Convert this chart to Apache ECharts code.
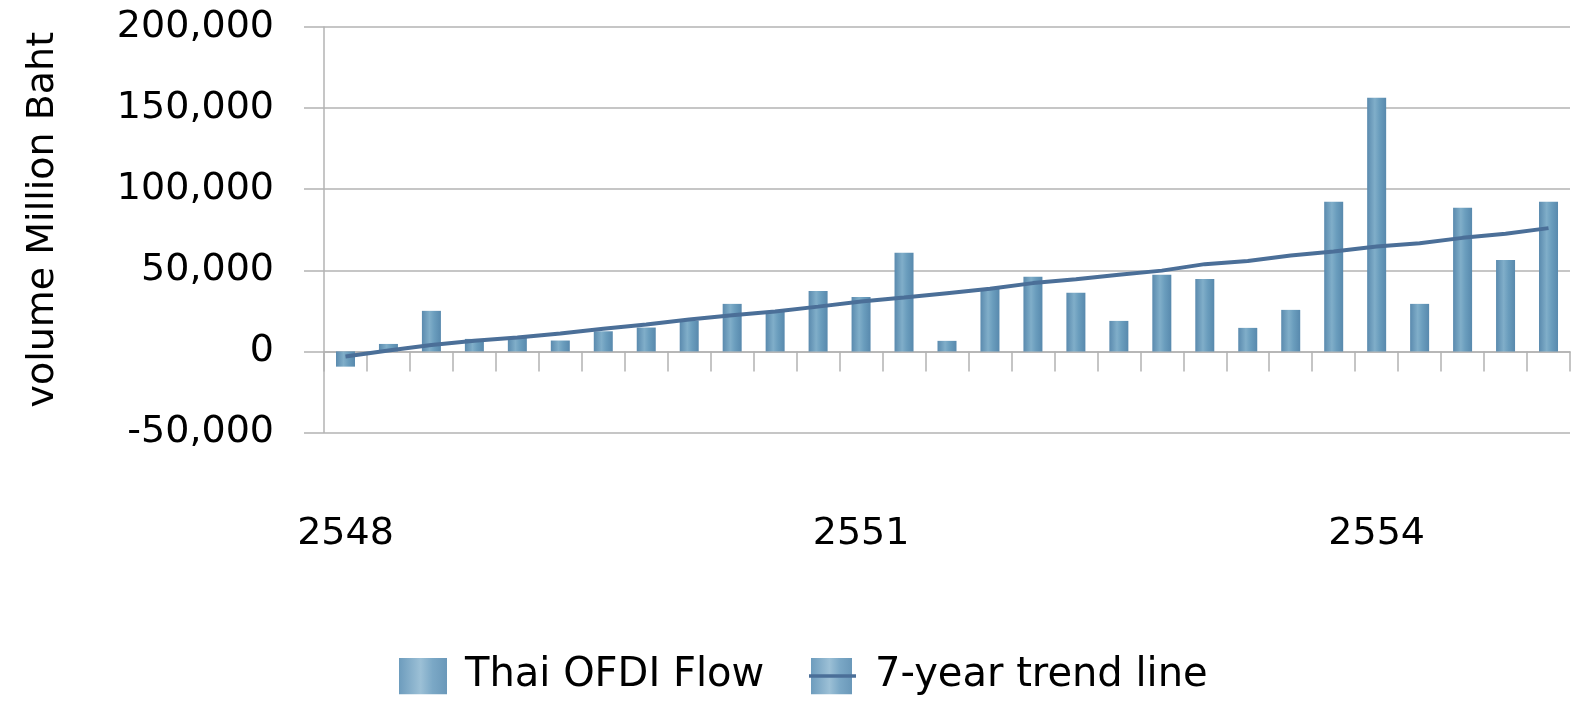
<!DOCTYPE html>
<html>
<head>
<meta charset="utf-8">
<script src="https://cdn.jsdelivr.net/npm/echarts@6/dist/echarts.min.js"></script>
<style>
  html, body { margin: 0; padding: 0; background: #fff; }
  #chart { width: 1575px; height: 705px; }
</style>
</head>
<body>
<div id="chart"></div>
<script>
// quarters 2548 Q1 .. 2555 Q1
const quarters = [
  '2548 Q1', '2548 Q2', '2548 Q3', '2548 Q4',
  '2549 Q1', '2549 Q2', '2549 Q3', '2549 Q4',
  '2550 Q1', '2550 Q2', '2550 Q3', '2550 Q4',
  '2551 Q1', '2551 Q2', '2551 Q3', '2551 Q4',
  '2552 Q1', '2552 Q2', '2552 Q3', '2552 Q4',
  '2553 Q1', '2553 Q2', '2553 Q3', '2553 Q4',
  '2554 Q1', '2554 Q2', '2554 Q3', '2554 Q4',
  '2555 Q1'
]

// million baht
const ofdiFlow = [
  -9400, 4600, 25000, 7700, 8900, 6700, 12400, 14700,
  19000, 29300, 24600, 37300, 33600, 60800, 6500, 39000,
  46000, 36100, 18800, 47200, 44700, 14500, 25600, 92200,
  156400, 29300, 88500, 56400, 92200
]

const trendLine = [
  -3200, 500, 3900, 6500, 8500, 11100, 13900, 16600,
  19600, 22300, 24600, 27600, 30700, 33200, 35900, 38600,
  42100, 44500, 47200, 49800, 53800, 55800, 59100, 61600,
  64700, 66700, 70000, 72500, 76000
]

const seriesNames = ['Thai OFDI Flow', '7-year trend line']

const FONT = 'DejaVu Sans'
const GRID_COLOR = '#b3b3b3'
const LINE_COLOR = '#4b6f98'

const barFill = new echarts.graphic.LinearGradient(0, 0, 1, 0, [
  { offset: 0, color: '#5a8aae' },
  { offset: 0.4, color: '#80aec9' },
  { offset: 0.65, color: '#6a9dbd' },
  { offset: 1, color: '#5889ad' }
])

function svgIcon (withLine) {
  const grad = '<defs><linearGradient id="g" x1="0" y1="0" x2="1" y2="0">' +
    '<stop offset="0" stop-color="#6d9cbd"/><stop offset="0.45" stop-color="#9cc0d6"/>' +
    '<stop offset="0.7" stop-color="#7ba8c6"/><stop offset="1" stop-color="#6a98b9"/>' +
    '</linearGradient></defs>'
  let body = withLine
    ? '<rect x="2" y="0" width="41" height="37" fill="url(#g)"/>' +
      '<line x1="0" y1="18.5" x2="47" y2="18.5" stroke="' + LINE_COLOR + '" stroke-width="3.5"/>'
    : '<rect x="0" y="0" width="48" height="37" fill="url(#g)"/>'
  const svg = '<svg xmlns="http://www.w3.org/2000/svg" width="48" height="37">' + grad + body + '</svg>'
  return 'image://data:image/svg+xml;utf8,' + encodeURIComponent(svg)
}

const legendBase = {
  top: 656,
  padding: 0,
  itemWidth: 48,
  itemHeight: 37,
  textStyle: {
    fontFamily: FONT,
    fontSize: 40,
    color: '#000',
    padding: [26, 0, 0, 13]
  }
}

const chart = echarts.init(document.getElementById('chart'))
chart.setOption({
  animation: false,
  backgroundColor: '#fff',
  grid: {
    left: 324,
    right: 5,
    top: 27,
    bottom: 272.5,
    containLabel: false
  },
  legend: [
    { ...legendBase, left: 399, data: [{ name: seriesNames[0], icon: svgIcon(false) }] },
    { ...legendBase, left: 809, data: [{ name: seriesNames[1], icon: svgIcon(true) }] }
  ],
  xAxis: {
    type: 'category',
    data: quarters,
    boundaryGap: true,
    axisLine: { onZero: true, lineStyle: { color: GRID_COLOR, width: 1.5 } },
    axisTick: { show: true, interval: 0, length: 20, lineStyle: { color: GRID_COLOR, width: 1.5 } },
    axisLabel: {
      interval: 11,
      margin: 83,
      fontFamily: FONT,
      fontSize: 38,
      lineHeight: 38,
      color: '#000',
      formatter: (v) => v.split(' ')[0]
    },
    splitLine: { show: false }
  },
  yAxis: {
    type: 'value',
    min: -50000,
    max: 200000,
    interval: 50000,
    name: 'volume Million Baht',
    nameLocation: 'middle',
    nameGap: 262,
    nameTextStyle: {
      fontFamily: FONT,
      fontSize: 38,
      lineHeight: 38,
      color: '#000',
      padding: [0, 0, 0, 20]
    },
    axisLine: { show: true, lineStyle: { color: GRID_COLOR, width: 1.5 } },
    axisTick: { show: true, length: 20, lineStyle: { color: GRID_COLOR, width: 1.5 } },
    axisLabel: {
      margin: 50,
      fontFamily: FONT,
      fontSize: 38,
      color: '#000',
      formatter: (v) => v.toLocaleString('en-US')
    },
    splitLine: { lineStyle: { color: GRID_COLOR, width: 1.5 } }
  },
  series: [
    {
      name: seriesNames[0],
      type: 'bar',
      data: ofdiFlow,
      barWidth: 19,
      itemStyle: { color: barFill }
    },
    {
      name: seriesNames[1],
      type: 'line',
      data: trendLine,
      showSymbol: false,
      symbol: 'none',
      z: 5,
      lineStyle: { color: LINE_COLOR, width: 4 },
      itemStyle: { color: LINE_COLOR }
    }
  ]
})
</script>
</body>
</html>
